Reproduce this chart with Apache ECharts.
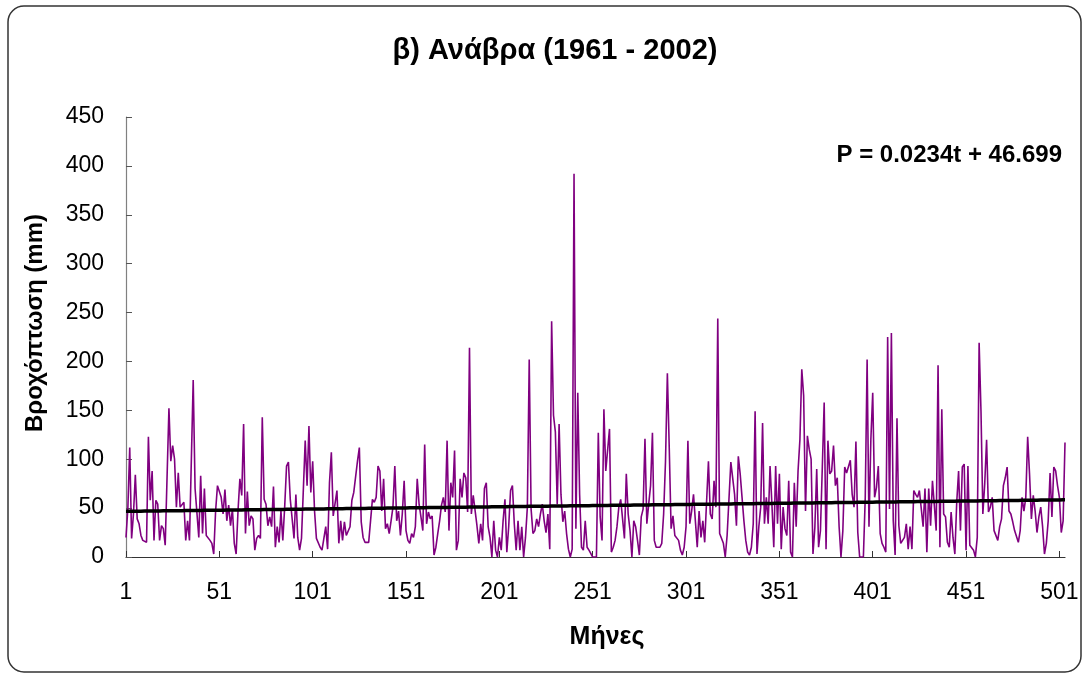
<!DOCTYPE html>
<html>
<head>
<meta charset="utf-8">
<title>Ανάβρα 1961 - 2002</title>
<script src="https://cdn.jsdelivr.net/npm/echarts@6/dist/echarts.min.js"></script>
<style>
  html, body { margin: 0; padding: 0; background: #fff; }
  #chart { width: 1084px; height: 675px; }
</style>
</head>
<body>
<div id="chart"></div>
<script>
// monthly rainfall (mm), one row per year
const rain1961_1970 = [
  20, 50, 112, 19, 44, 84, 39, 34, 22, 17, 15, 15,
  123, 58, 88, 17, 58, 54, 17, 32, 29, 12, 14, 152,
  98, 114, 100, 51, 86, 51, 53, 56, 17, 37, 17, 17,
  181, 70, 68, 20, 83, 24, 70, 22, 20, 17, 14, 3,
  47, 73, 73, 61, 44, 69, 37, 53, 32, 49, 14, 3,
  47, 80, 63, 136, 24, 67, 32, 42, 39, 7, 19, 22,
  19, 143, 59, 54, 32, 41, 31, 72, 10, 31, 15, 47,
  17, 51, 93, 97, 59, 58, 19, 64, 20, 7, 19, 17,
  119, 73, 134, 66, 98, 47, 19, 20, 10, 7, 19, 31,
  8, 76, 107, 42, 41, 68, 14, 37, 17, 36, 22, 22
];
const rain1971_1980 = [
  31, 58, 66, 68, 98, 112, 36, 20, 15, 17, 15, 37,
  59, 56, 61, 93, 88, 47, 80, 29, 34, 24, 37, 51,
  93, 37, 47, 22, 44, 78, 27, 17, 14, 24, 20, 31,
  80, 54, 41, 27, 115, 34, 46, 39, 42, 2, 10, 24,
  37, 53, 61, 46, 119, 27, 76, 61, 109, 7, 17, 80,
  61, 86, 81, 46, 214, 44, 63, 61, 32, 14, 34, 17,
  70, 76, 31, 20, 0, 37, 7, 0, 20, 7, 37, 59,
  5, 31, 68, 73, 34, 7, 37, 7, 31, 0, 20, 51,
  202, 49, 24, 27, 39, 31, 44, 54, 37, 25, 44, 8,
  241, 145, 128, 54, 136, 64, 36, 47, 24, 8, 0, 8
];
const rain1981_1990 = [
  392, 29, 168, 64, 10, 7, 37, 10, 7, 5, 0, 0,
  0, 127, 41, 17, 151, 88, 86, 131, 5, 10, 17, 31,
  51, 59, 58, 19, 85, 44, 27, 0, 37, 31, 17, 2,
  41, 49, 121, 34, 54, 73, 127, 17, 10, 8, 10, 14,
  44, 98, 188, 112, 29, 42, 22, 22, 17, 7, 2, 10,
  31, 119, 34, 47, 64, 37, 10, 47, 20, 37, 15, 17,
  98, 44, 39, 78, 51, 244, 24, 24, 14, 0, 22, 20,
  97, 95, 64, 32, 103, 85, 61, 37, 17, 5, 2, 10,
  34, 149, 3, 31, 51, 137, 34, 61, 34, 93, 54, 10,
  93, 34, 85, 8, 51, 29, 22, 78, 5, 0, 76, 31
];
const rain1991_2002 = [
  88, 120, 192, 165, 47, 124, 110, 100, 3, 30, 90, 10,
  27, 92, 158, 8, 119, 85, 88, 114, 73, 81, 31, 0,
  27, 92, 86, 85, 99, 64, 51, 118, 25, 0, 2, 0,
  61, 202, 31, 120, 168, 61, 71, 93, 24, 14, 10, 5,
  225, 49, 229, 37, 2, 142, 32, 14, 17, 20, 34, 8,
  31, 8, 68, 64, 61, 68, 70, 31, 70, 5, 70, 32,
  78, 53, 27, 196, 10, 151, 44, 41, 15, 10, 46, 20,
  3, 56, 88, 27, 92, 95, 7, 93, 12, 10, 7, 0,
  20, 219, 149, 44, 75, 120, 46, 51, 61, 27, 25, 17,
  31, 39, 73, 81, 92, 47, 44, 36, 27, 27, 15, 27,
  61, 47, 61, 123, 85, 39, 63, 47, 25, 41, 51, 31,
  3, 14, 37, 86, 41, 92, 88, 73, 61, 25, 37, 117
];

// linear trend printed on the chart
const trendSlope = 0.0234;
const trendIntercept = 46.699;
const yTicks = { min: 0, max: 450, step: 50 };

const rainfall = [].concat(rain1961_1970, rain1971_1980, rain1981_1990, rain1991_2002);
const months = rainfall.map((v, i) => String(i + 1));
const trend = months.map((m) => +(trendSlope * Number(m) + trendIntercept).toFixed(3));

const FONT = "'Liberation Sans', Arial, sans-serif";

let myChart = echarts.init(document.getElementById("chart"));
let option = {
  animation: false,
  backgroundColor: "#fff",
  title: {
    text: "β) Ανάβρα (1961 - 2002)",
    left: 550,
    top: 31,
    textAlign: "center",
    textStyle: { fontFamily: FONT, fontSize: 29, fontWeight: "bold", color: "#000" },
  },
  graphic: [
    {
      type: "rect",
      shape: { x: 8, y: 6, width: 1073, height: 666, r: 16 },
      style: { fill: "none", stroke: "#333", lineWidth: 1.5 },
      silent: true,
      z: -1,
    },
    {
      type: "text",
      x: 1062,
      y: 155,
      style: {
        text: "P = 0.0234t + 46.699",
        font: "bold 24px " + FONT,
        fill: "#000",
        align: "right",
        verticalAlign: "middle",
      },
    },
    // axis titles
    {
      type: "text",
      x: 35,
      y: 323,
      rotation: Math.PI / 2,
      style: {
        text: "Βροχόπτωση (mm)",
        font: "bold 24px " + FONT,
        fill: "#000",
        align: "center",
        verticalAlign: "middle",
      },
    },
    {
      type: "text",
      x: 607,
      y: 637,
      style: {
        text: "Μήνες",
        font: "bold 25px " + FONT,
        fill: "#000",
        align: "center",
        verticalAlign: "middle",
      },
    },
  ],
  grid: { left: 126, right: 19, top: 117, bottom: 118 },
  xAxis: {
    type: "category",
    data: months,
    boundaryGap: false,
    axisLine: { lineStyle: { color: "#333", width: 1.2 } },
    axisTick: { interval: 49, inside: true, length: 6, lineStyle: { color: "#333" } },
    axisLabel: { interval: 49, margin: 24, fontFamily: FONT, fontSize: 23, color: "#000" },
    splitLine: { show: false },
  },
  yAxis: {
    type: "value",
    min: yTicks.min,
    max: yTicks.max,
    interval: yTicks.step,
    axisLine: { show: true, lineStyle: { color: "#808080", width: 1.2 } },
    axisTick: { show: true, inside: true, length: 6, lineStyle: { color: "#555" } },
    axisLabel: { margin: 22, fontFamily: FONT, fontSize: 23, color: "#000" },
    splitLine: { show: false },
  },
  series: [
    {
      name: "Βροχόπτωση",
      type: "line",
      data: rainfall,
      showSymbol: false,
      lineStyle: { color: "#800080", width: 1.6 },
      itemStyle: { color: "#800080" },
      z: 2,
    },
    {
      name: "Τάση",
      type: "line",
      data: trend,
      showSymbol: false,
      lineStyle: { color: "#000", width: 3.5 },
      itemStyle: { color: "#000" },
      z: 3,
    },
  ],
};

option && myChart.setOption(option);
</script>
</body>
</html>
